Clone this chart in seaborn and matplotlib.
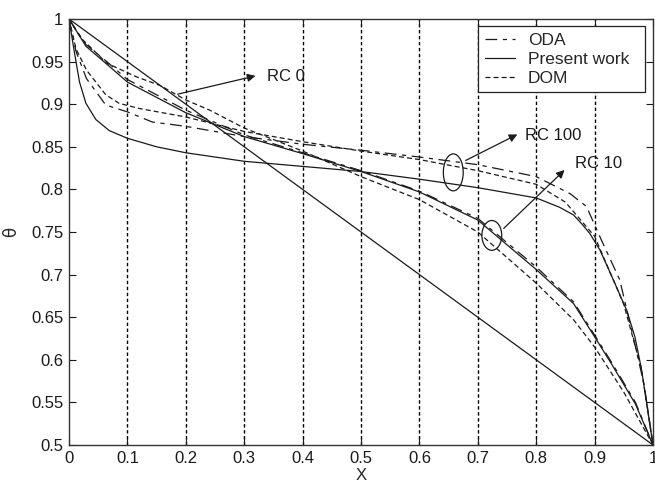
import numpy as np
import pandas as pd
import matplotlib
matplotlib.use('Agg')
import matplotlib.pyplot as plt
from matplotlib.lines import Line2D
from matplotlib.patches import Ellipse
import seaborn as sns

# 读图得到的数据 (X, theta)
rc0_x = [0.0, 1.0]
rc0_present = [1.0, 0.5]

rc10_present_x = [0, 0.029, 0.063, 0.1, 0.2, 0.3, 0.4, 0.5, 0.6, 0.7, 0.8, 0.864, 0.9, 0.93, 0.95, 0.97, 1.0]
rc10_present = [1.0, 0.968, 0.948, 0.926, 0.89, 0.862, 0.842, 0.821, 0.797, 0.764, 0.706, 0.666, 0.627, 0.594, 0.571, 0.548, 0.5]
rc10_oda = [1.0, 0.970, 0.951, 0.929, 0.893, 0.864, 0.843, 0.822, 0.798, 0.766, 0.709, 0.668, 0.629, 0.596, 0.573, 0.55, 0.5]

rc10_dom_x = [0, 0.02, 0.065, 0.116, 0.156, 0.2, 0.241, 0.3, 0.4, 0.5, 0.6, 0.7, 0.8, 0.864, 0.9, 0.95, 1.0]
rc10_dom = [1.0, 0.978, 0.948, 0.932, 0.922, 0.905, 0.893, 0.872, 0.845, 0.815, 0.788, 0.75, 0.69, 0.647, 0.615, 0.562, 0.5]

rc100_present_x = [0, 0.009, 0.018, 0.029, 0.046, 0.069, 0.1, 0.15, 0.2, 0.3, 0.4, 0.5, 0.6, 0.7, 0.8,
                   0.84, 0.864, 0.88, 0.892, 0.909, 0.932, 0.955, 0.969, 0.98, 0.99, 1.0]
rc100_present = [1.0, 0.962, 0.926, 0.901, 0.882, 0.869, 0.86, 0.85, 0.843, 0.833, 0.827, 0.821, 0.812, 0.802, 0.79,
                 0.779, 0.77, 0.758, 0.748, 0.729, 0.694, 0.658, 0.627, 0.59, 0.545, 0.5]

rc100_dom_x = [0, 0.012, 0.03, 0.046, 0.063, 0.086, 0.12, 0.16, 0.2, 0.3, 0.4, 0.5, 0.6, 0.7, 0.8, 0.85, 0.9, 0.95, 0.98, 1.0]
rc100_dom = [1.0, 0.965, 0.94, 0.926, 0.911, 0.901, 0.895, 0.89, 0.885, 0.868, 0.856, 0.845, 0.835, 0.822, 0.806, 0.785, 0.745, 0.665, 0.59, 0.5]

rc100_oda_x = [0, 0.012, 0.03, 0.063, 0.1, 0.143, 0.178, 0.2, 0.3, 0.4, 0.5, 0.6, 0.7, 0.8, 0.858, 0.886, 0.912, 0.943, 0.966, 0.985, 1.0]
rc100_oda = [1.0, 0.962, 0.93, 0.899, 0.891, 0.879, 0.876, 0.874, 0.862, 0.853, 0.846, 0.838, 0.829, 0.815, 0.795, 0.78, 0.74, 0.694, 0.627, 0.57, 0.5]

x_ticks = [0, 0.1, 0.2, 0.3, 0.4, 0.5, 0.6, 0.7, 0.8, 0.9, 1.0]
x_ticklabels = ['0', '0.1', '0.2', '0.3', '0.4', '0.5', '0.6', '0.7', '0.8', '0.9', '1']
y_ticks = [0.5, 0.55, 0.6, 0.65, 0.7, 0.75, 0.8, 0.85, 0.9, 0.95, 1.0]
y_ticklabels = ['0.5', '0.55', '0.6', '0.65', '0.7', '0.75', '0.8', '0.85', '0.9', '0.95', '1']

sns.set_style('ticks')
plt.rcParams['font.family'] = ['Liberation Sans', 'DejaVu Sans']
plt.rcParams['lines.scale_dashes'] = False

LINE_C = '#1a1a1a'
styles = {
    'ODA': (0, (8.5, 4, 3, 4)),
    'Present work': '-',
    'DOM': (0, (3.6, 2.2)),
}

fig = plt.figure(figsize=(6.55, 4.87), dpi=100)
ax = fig.add_axes([69 / 655, 1 - 445 / 487, 584 / 655, 426 / 487])

series = [
    (rc0_x, rc0_present, 'Present work'),
    (rc10_present_x, rc10_oda, 'ODA'),
    (rc10_present_x, rc10_present, 'Present work'),
    (rc10_dom_x, rc10_dom, 'DOM'),
    (rc100_oda_x, rc100_oda, 'ODA'),
    (rc100_present_x, rc100_present, 'Present work'),
    (rc100_dom_x, rc100_dom, 'DOM'),
]
for xs, ys, method in series:
    df = pd.DataFrame({'X': xs, 'theta': ys})
    sns.lineplot(data=df, x='X', y='theta', ax=ax, color=LINE_C, lw=0.9,
                 linestyle=styles[method], estimator=None, sort=False)

# 竖向虚线网格
for xv in x_ticks[1:-1]:
    ax.axvline(xv, color='k', lw=1.0, linestyle=(0, (2.5, 1.8)), zorder=0)

ax.set_xlim(0, 1)
ax.set_ylim(0.5, 1)
ax.set_xticks(x_ticks)
ax.set_xticklabels(x_ticklabels)
ax.set_yticks(y_ticks)
ax.set_yticklabels(y_ticklabels)
ax.tick_params(direction='in', length=5, width=0.8, labelsize=12, pad=4,
               top=True, right=True, colors=LINE_C)
for sp in ax.spines.values():
    sp.set_visible(True)
    sp.set_color('#333333')
    sp.set_linewidth(1.0)
ax.set_xlabel('X', fontsize=12, labelpad=2)
ax.set_ylabel('θ', fontsize=12, labelpad=8, family=['DejaVu Sans'])

# 标注
arrow = dict(arrowstyle='-|>', color=LINE_C, lw=0.9, mutation_scale=12)
ax.annotate('', xy=(0.324, 0.934), xytext=(0.1815, 0.911), arrowprops=arrow)
ax.text(0.339, 0.932, 'RC 0', fontsize=12, va='center', ha='left', color=LINE_C)

ax.add_patch(Ellipse((0.658, 0.820), 0.034, 0.0434, fill=False, ec=LINE_C, lw=0.9))
ax.annotate('', xy=(0.772, 0.866), xytext=(0.675, 0.8325), arrowprops=arrow)
ax.text(0.781, 0.863, 'RC 100', fontsize=12, va='center', ha='left', color=LINE_C)

ax.add_patch(Ellipse((0.724, 0.746), 0.034, 0.035, fill=False, ec=LINE_C, lw=0.9))
ax.annotate('', xy=(0.852, 0.825), xytext=(0.741, 0.752), arrowprops=arrow)
ax.text(0.866, 0.830, 'RC 10', fontsize=12, va='center', ha='left', color=LINE_C)

handles = [Line2D([], [], color=LINE_C, lw=0.9, linestyle=styles[m]) for m in ['ODA', 'Present work', 'DOM']]
leg = ax.legend(handles, ['ODA', 'Present work', 'DOM'], loc='upper right',
                bbox_to_anchor=(0.7003, 0.5, 0.286, 0.4836), mode='expand',
                borderaxespad=0, fontsize=12.5,
                frameon=True, fancybox=False, framealpha=1, edgecolor='#222222',
                borderpad=0.38, handlelength=1.75,
                handletextpad=0.75, labelspacing=0.22)
leg.get_frame().set_linewidth(0.9)

plt.savefig('out.png', dpi=100)
plt.close()
